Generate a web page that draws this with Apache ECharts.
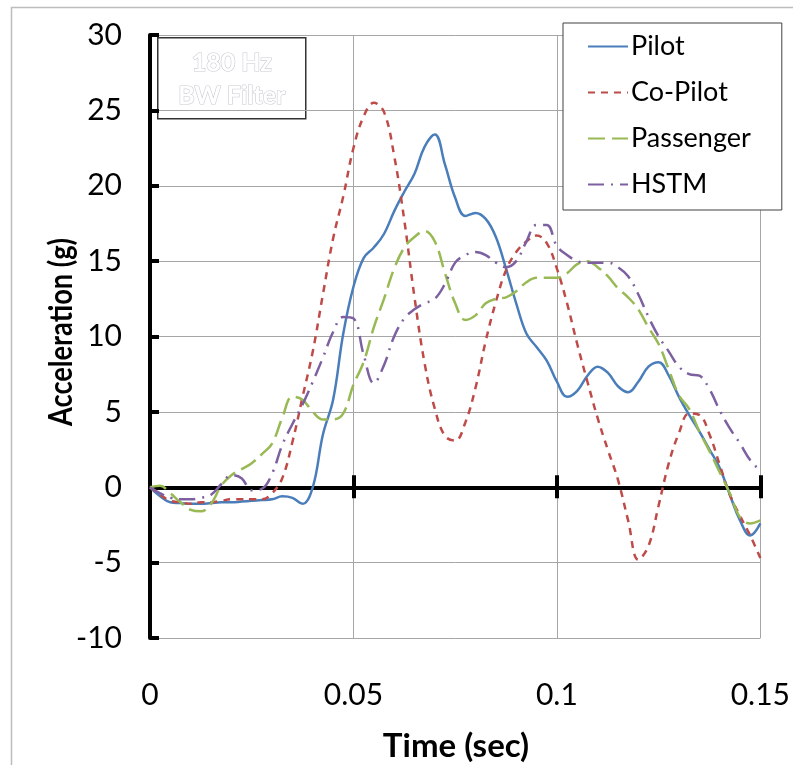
<!DOCTYPE html>
<html>
<head>
<meta charset="utf-8">
<script src="https://cdn.jsdelivr.net/npm/echarts@6/dist/echarts.min.js"></script>
<style>
html,body{margin:0;padding:0;background:#fff;}
#chart{width:793px;height:765px;}
</style>
</head>
<body>
<div id="chart"></div>
<script>
// Time samples (sec)
const timeSec = [];
for (let i = 0; i <= 60; i++) timeSec.push(+(i * 0.0025).toFixed(4));

const seriesNames = ['Pilot', 'Co-Pilot', 'Passenger', 'HSTM'];

const pilot = [0, -0.6, -1.0, -1.05, -1.1, -1.1, -1.05, -1.0, -1.0, -0.95,
  -0.9, -0.85, -0.8, -0.6, -0.7, -1.1, 0.0, 3.5, 5.8, 10.2,
  13.3, 15.2, 15.9, 16.8, 18.3, 19.6, 20.8, 22.6, 23.4, 21.4,
  19.2, 18.0, 18.2, 17.8, 16.6, 14.5, 12.2, 10.2, 9.3, 8.4,
  7.0, 6.0, 6.4, 7.4, 8.0, 7.6, 6.7, 6.3, 7.0, 8.0,
  8.3, 7.4, 6.0, 4.8, 3.7, 2.5, 1.3, -0.5, -2.2, -3.2, -2.4];

const coPilot = [0, -0.5, -0.9, -1.0, -1.1, -1.0, -1.0, -0.9, -0.8, -0.8,
  -0.8, -0.8, -0.4, 0.6, 3.0, 6.0, 9.0, 12.8, 16.5, 19.3,
  22.5, 24.6, 25.5, 24.9, 22.0, 17.7, 12.6, 8.2, 5.2, 3.4,
  3.1, 4.3, 6.6, 9.7, 12.3, 14.4, 15.6, 16.3, 16.7, 16.2,
  14.5, 12.2, 9.5, 7.0, 4.6, 2.5, 0.5, -2.2, -4.8, -3.9,
  -1.2, 1.6, 3.6, 4.9, 4.8, 3.5, 1.5, -0.5, -1.9, -3.2, -4.7];

const passenger = [0, 0.1, -0.4, -1.0, -1.5, -1.6, -1.1, 0.1, 0.8, 1.2,
  1.6, 2.2, 2.9, 4.6, 6.0, 5.8, 5.0, 4.5, 4.5, 4.9,
  6.8, 8.3, 10.6, 12.5, 14.5, 15.9, 16.6, 17.0, 16.3, 14.2,
  12.2, 11.1, 11.4, 12.2, 12.5, 12.6, 13.0, 13.6, 13.9, 13.9,
  13.9, 14.2, 14.8, 15.0, 14.6, 14.0, 13.2, 12.6, 11.8, 10.6,
  9.5, 7.8, 6.1, 5.2, 3.7, 2.4, 1.0, -0.4, -2.0, -2.4, -2.2];

const hstm = [0, -0.4, -0.7, -0.8, -0.8, -0.7, -0.5, 0.2, 0.8, 0.6,
  -0.2, -0.1, 0.9, 2.8, 4.2, 5.5, 7.0, 8.6, 10.3, 11.3,
  11.2, 8.8, 6.9, 8.1, 10.0, 11.2, 11.8, 12.2, 12.5, 13.5,
  14.9, 15.4, 15.6, 15.4, 14.9, 14.6, 15.0, 16.3, 17.4, 17.4,
  16.0, 15.4, 15.0, 14.9, 14.9, 14.9, 14.6, 14.0, 12.8, 11.3,
  10.0, 9.0, 8.0, 7.5, 7.4, 6.5, 5.1, 3.9, 2.9, 1.8, 1.1];

const xTicks = [0, 0.05, 0.1, 0.15];
const yTicks = [-10, -5, 0, 5, 10, 15, 20, 25, 30];
const filterNote = ['180 Hz', 'BW Filter'];
const xTitle = 'Time (sec)';
const yTitle = 'Acceleration (g)';

const FONT = 'Lato, "Open Sans", sans-serif';
const pair = arr => timeSec.map((t, i) => [t, arr[i]]);

const styles = [
  { color: '#4a7ebb', type: 'solid' },
  { color: '#be4b48', type: [7, 6] },
  { color: '#98b954', type: [17, 7] },
  { color: '#7d60a0', type: [16, 7, 2, 7] }
];
const dataSets = [pilot, coPilot, passenger, hstm];

const chart = echarts.init(document.getElementById('chart'), null, { renderer: 'canvas' });

const baseX = {
  type: 'value', min: xTicks[0], max: xTicks[xTicks.length - 1], interval: 0.05
};

chart.setOption({
  animation: false,
  backgroundColor: '#fff',
  grid: { left: 150, right: 30, top: 35, bottom: 127, containLabel: false },
  legend: {
    data: seriesNames,
    orient: 'vertical',
    left: 563, top: 23,
    padding: [10, 31, 12, 24],
    itemGap: 19,
    itemWidth: 40, itemHeight: 26,
    backgroundColor: '#fff',
    borderColor: '#404040', borderWidth: 1,
    selectedMode: false,
    itemStyle: { opacity: 0 },
    textStyle: { fontSize: 27, color: '#000', fontFamily: FONT, padding: [0, 0, 0, -2] }
  },
  xAxis: [
    Object.assign({}, baseX, {
      position: 'bottom',
      axisLine: { show: false, onZero: false },
      axisTick: { show: false },
      axisLabel: { fontSize: 30, color: '#000', fontFamily: FONT, margin: 42 },
      splitLine: { show: true, lineStyle: { color: '#a6a6a6', width: 1 } }
    }),
    Object.assign({}, baseX, {
      axisLine: { show: true, onZero: true, onZeroAxisIndex: 0, lineStyle: { color: '#000', width: 4 } },
      axisTick: { show: true, inside: true, length: 11, lineStyle: { color: '#000', width: 4 } },
      axisLabel: { show: false },
      splitLine: { show: false }
    }),
    Object.assign({}, baseX, {
      axisLine: { show: true, onZero: true, onZeroAxisIndex: 0, lineStyle: { color: '#000', width: 4 } },
      axisTick: { show: true, inside: false, length: 12, lineStyle: { color: '#000', width: 4 } },
      axisLabel: { show: false },
      splitLine: { show: false }
    })
  ],
  yAxis: {
    type: 'value', min: yTicks[0], max: yTicks[yTicks.length - 1], interval: 5,
    axisLine: { show: true, onZero: false, lineStyle: { color: '#000', width: 4 } },
    axisTick: { show: true, inside: true, length: 9, lineStyle: { color: '#000', width: 4 } },
    axisLabel: { fontSize: 30, color: '#000', fontFamily: FONT, margin: 28 },
    splitLine: { show: true, lineStyle: { color: '#a6a6a6', width: 1 } }
  },
  series: seriesNames.map((n, k) => ({
    name: n, type: 'line', xAxisIndex: 0, yAxisIndex: 0,
    data: pair(dataSets[k]),
    smooth: 0.4, showSymbol: false, symbol: 'none',
    color: styles[k].color,
    lineStyle: { color: styles[k].color, width: 2.5, type: styles[k].type },
    z: 3
  })),
  graphic: [
    { type: 'rect', left: 9, top: 5, silent: true, z: -10,
      shape: { x: 0, y: 0, width: 820, height: 800 },
      style: { fill: 'none', stroke: '#bdbdbd', lineWidth: 1.5 } },
    { type: 'text', x: 456, y: 746, z: 10,
      style: { text: xTitle, fill: '#000', font: 'bold 33px ' + FONT, textAlign: 'center', textVerticalAlign: 'middle' } },
    { type: 'text', x: 62, y: 332, rotation: Math.PI / 2, scaleX: 0.85, z: 10,
      style: { text: yTitle, fill: '#000', font: 'bold 32px ' + FONT, textAlign: 'center', textVerticalAlign: 'middle' } },
    { type: 'group', left: 157, top: 37, z: 10, children: [
      { type: 'rect', shape: { x: 0, y: 0, width: 148, height: 81 },
        style: { fill: '#fff', stroke: '#333', lineWidth: 1.5 } },
      { type: 'text', x: 74, y: 25, style: { text: filterNote[0], fill: '#fff', stroke: '#c8ccd2', lineWidth: 1.2,
          font: 'bold 25px ' + FONT, textAlign: 'center', textVerticalAlign: 'middle' } },
      { type: 'text', x: 74, y: 58, style: { text: filterNote[1], fill: '#fff', stroke: '#c8ccd2', lineWidth: 1.2,
          font: 'bold 25px ' + FONT, textAlign: 'center', textVerticalAlign: 'middle' } }
    ]}
  ]
});
</script>
</body>
</html>
